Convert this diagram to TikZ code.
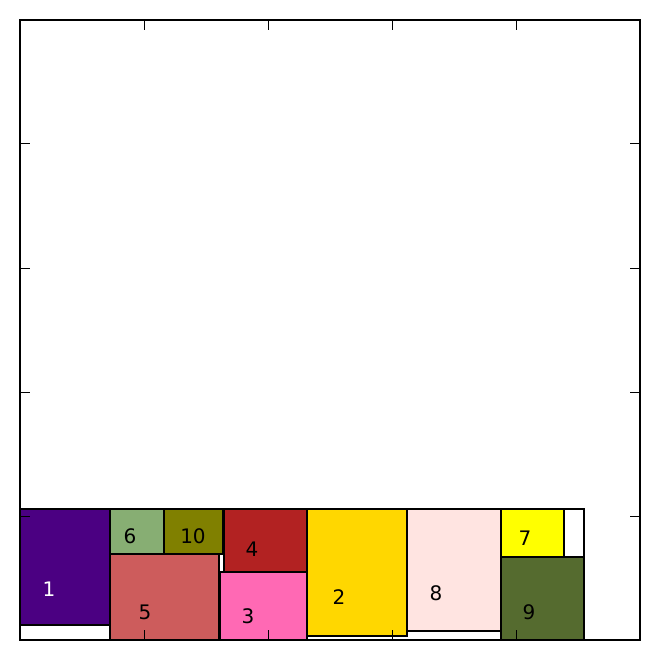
\documentclass[tikz,border=0pt]{standalone}
\usepackage{fontspec}
\setmainfont{DejaVu Sans}
\definecolor{indigo}{HTML}{4B0082}
\definecolor{sage}{HTML}{87AE73}
\definecolor{olivec}{HTML}{808000}
\definecolor{indianred}{HTML}{CD5C5C}
\definecolor{firebrick}{HTML}{B22222}
\definecolor{hotpink}{HTML}{FF69B4}
\definecolor{goldc}{HTML}{FFD700}
\definecolor{mistyrose}{HTML}{FFE4E1}
\definecolor{yellowc}{HTML}{FFFF00}
\definecolor{darkolive}{HTML}{556B2F}
\tikzset{box/.style={draw=black,line width=2pt},lbl/.style={font=\fontsize{20}{20}\selectfont,inner sep=0pt},tk/.style={line width=1pt}}
\begin{document}
\begin{tikzpicture}[x=1pt,y=-1pt]
\useasboundingbox (0,0) rectangle (659,660);
\draw[box] (20,509) rectangle (584,640);
\foreach\a/\b/\c/\d/\col/\t/\lx/\ly/\tc in{20/509/110/625/indigo/1/49/589/white,110/509/164/554/sage/6/130/536/black,164/509/223/554/olivec/10/193/536/black,110/554/219/640/indianred/5/145/612/black,224/509/307/572/firebrick/4/252/549/black,220/572/307/640/hotpink/3/248/616/black,307/509/407/636/goldc/2/339/597/black,407/509/501/631/mistyrose/8/436/593/black,501/509/564/557/yellowc/7/525/538/black,501/557/584/640/darkolive/9/529/612/black}{
\draw[box,fill=\col](\a,\b)rectangle(\c,\d);
\node[lbl,text=\tc](r\t)at(\lx,\ly){\t};}
\foreach\p in{144,268,392,516}{\draw[tk](\p,20)--(\p,30);\draw[tk](\p,640)--(\p,630);\draw[tk](20,\p)--(30,\p);\draw[tk](640,\p)--(630,\p);}
\draw[box](20,20)rectangle(640,640);
\end{tikzpicture}
\end{document}
